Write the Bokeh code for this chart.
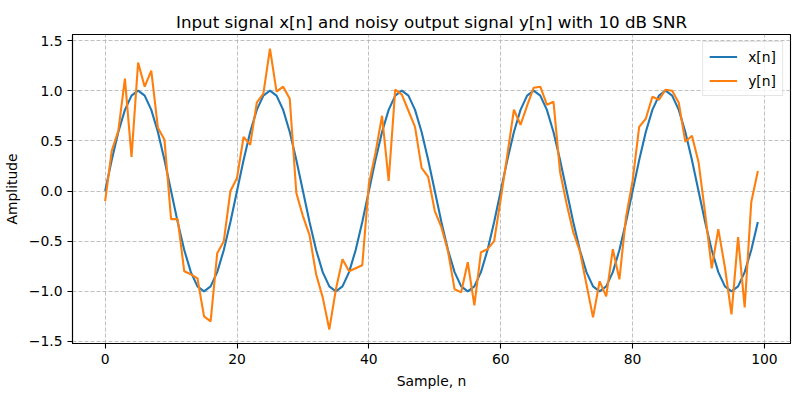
from bokeh.plotting import figure
from bokeh.models import Range1d, FixedTicker, Legend, LegendItem, CustomJSTickFormatter
from bokeh.embed import file_html
from bokeh.resources import INLINE

# ---- data ----
samples = list(range(100))
x_signal = [
    0.0, 0.309, 0.588, 0.809, 0.951, 1.0, 0.951, 0.809, 0.588, 0.309,
    0.0, -0.309, -0.588, -0.809, -0.951, -1.0, -0.951, -0.809, -0.588, -0.309,
    0.0, 0.309, 0.588, 0.809, 0.951, 1.0, 0.951, 0.809, 0.588, 0.309,
    0.0, -0.309, -0.588, -0.809, -0.951, -1.0, -0.951, -0.809, -0.588, -0.309,
    0.0, 0.309, 0.588, 0.809, 0.951, 1.0, 0.951, 0.809, 0.588, 0.309,
    0.0, -0.309, -0.588, -0.809, -0.951, -1.0, -0.951, -0.809, -0.588, -0.309,
    0.0, 0.309, 0.588, 0.809, 0.951, 1.0, 0.951, 0.809, 0.588, 0.309,
    0.0, -0.309, -0.588, -0.809, -0.951, -1.0, -0.951, -0.809, -0.588, -0.309,
    0.0, 0.309, 0.588, 0.809, 0.951, 1.0, 0.951, 0.809, 0.588, 0.309,
    0.0, -0.309, -0.588, -0.809, -0.951, -1.0, -0.951, -0.809, -0.588, -0.309,
]
y_noisy = [
    -0.10, 0.40, 0.60, 1.12, 0.34, 1.28, 1.04, 1.20, 0.63, 0.51,
    -0.28, -0.28, -0.80, -0.83, -0.87, -1.25, -1.30, -0.62, -0.50, 0.00,
    0.13, 0.54, 0.46, 0.88, 0.97, 1.42, 0.99, 1.04, 0.92, -0.02,
    -0.25, -0.44, -0.83, -1.06, -1.38, -0.98, -0.68, -0.80, -0.77, -0.74,
    0.07, 0.38, 0.75, 0.10, 1.01, 0.96, 0.80, 0.64, 0.23, 0.14,
    -0.20, -0.36, -0.60, -0.98, -1.01, -0.71, -1.14, -0.61, -0.58, -0.50,
    -0.08, 0.36, 0.81, 0.66, 0.85, 1.03, 1.04, 0.86, 0.89, 0.19,
    -0.13, -0.41, -0.60, -0.93, -1.26, -0.90, -1.05, -0.58, -0.88, -0.26,
    0.10, 0.64, 0.72, 0.94, 0.91, 1.01, 1.00, 0.88, 0.49, 0.55,
    0.29, -0.22, -0.77, -0.38, -0.76, -1.23, -0.46, -1.16, -0.11, 0.20,
]
x_ticks = [0, 20, 40, 60, 80, 100]
y_ticks = [-1.5, -1.0, -0.5, 0.0, 0.5, 1.0, 1.5]
title_text = "Input signal x[n] and noisy output signal y[n] with 10 dB SNR"
x_label = "Sample, n"
y_label = "Amplitude"
legend_labels = ["x[n]", "y[n]"]

FONT = "DejaVu Sans"

# ranges with 5% margins (matplotlib style)
xmin, xmax = min(samples), max(samples)
xpad = 0.05 * (xmax - xmin)
allv = x_signal + y_noisy
ymin, ymax = min(allv), max(allv)
ypad = 0.05 * (ymax - ymin)

p = figure(
    width=800, height=400,
    output_backend="svg", toolbar_location=None,
    x_range=Range1d(xmin - xpad, xmax + xpad),
    y_range=Range1d(ymin - ypad, ymax + ypad),
    min_border_left=72, min_border_right=10,
    min_border_top=34, min_border_bottom=57,
    background_fill_color="white", border_fill_color="white",
)

l1 = p.line(samples, x_signal, line_color="#1f77b4", line_width=2.1)
l2 = p.line(samples, y_noisy, line_color="#ff7f0e", line_width=2.1)

# title
p.title.text = title_text
p.title.align = "center"
p.title.text_font = FONT
p.title.text_font_size = "16.7px"
p.title.text_font_style = "normal"
p.title.text_color = "black"
p.title.standoff = 6

# outline
p.outline_line_color = "black"
p.outline_line_width = 1.1

# axes
p.xaxis.ticker = FixedTicker(ticks=x_ticks)
p.yaxis.ticker = FixedTicker(ticks=y_ticks)
p.xaxis.formatter = CustomJSTickFormatter(code="return tick.toFixed(0);")
p.yaxis.formatter = CustomJSTickFormatter(code="return tick.toFixed(1).replace('-', '\\u2212');")
p.xaxis.axis_label = x_label
p.yaxis.axis_label = y_label
for ax in (p.xaxis, p.yaxis):
    ax.axis_line_color = "black"
    ax.axis_line_width = 1.1
    ax.major_tick_line_color = "black"
    ax.major_tick_line_width = 1.1
    ax.major_tick_out = 5
    ax.major_tick_in = 0
    ax.minor_tick_line_color = None
    ax.major_label_text_font = FONT
    ax.major_label_text_font_size = "13.9px"
    ax.major_label_text_color = "black"
    ax.major_label_standoff = 5
    ax.axis_label_text_font = FONT
    ax.axis_label_text_font_size = "13.9px"
    ax.axis_label_text_font_style = "normal"
    ax.axis_label_text_color = "black"
    ax.axis_label_standoff = 6

# grid
for g in (p.xgrid, p.ygrid):
    g.grid_line_color = "#b0b0b0"
    g.grid_line_alpha = 0.8
    g.grid_line_dash = "4 2"
    g.grid_line_width = 1

# legend
legend = Legend(
    items=[LegendItem(label=legend_labels[0], renderers=[l1]),
           LegendItem(label=legend_labels[1], renderers=[l2])],
    location="top_right",
    label_text_font=FONT,
    label_text_font_size="13.9px",
    label_text_color="black",
    border_line_color="#cccccc",
    border_line_width=1,
    background_fill_color="white",
    background_fill_alpha=0.8,
    glyph_width=28,
    glyph_height=17,
    label_height=17,
    label_standoff=11,
    spacing=7,
    padding=6,
    margin=7,
)
p.add_layout(legend)

open("out.html", "w").write(file_html(p, INLINE))
